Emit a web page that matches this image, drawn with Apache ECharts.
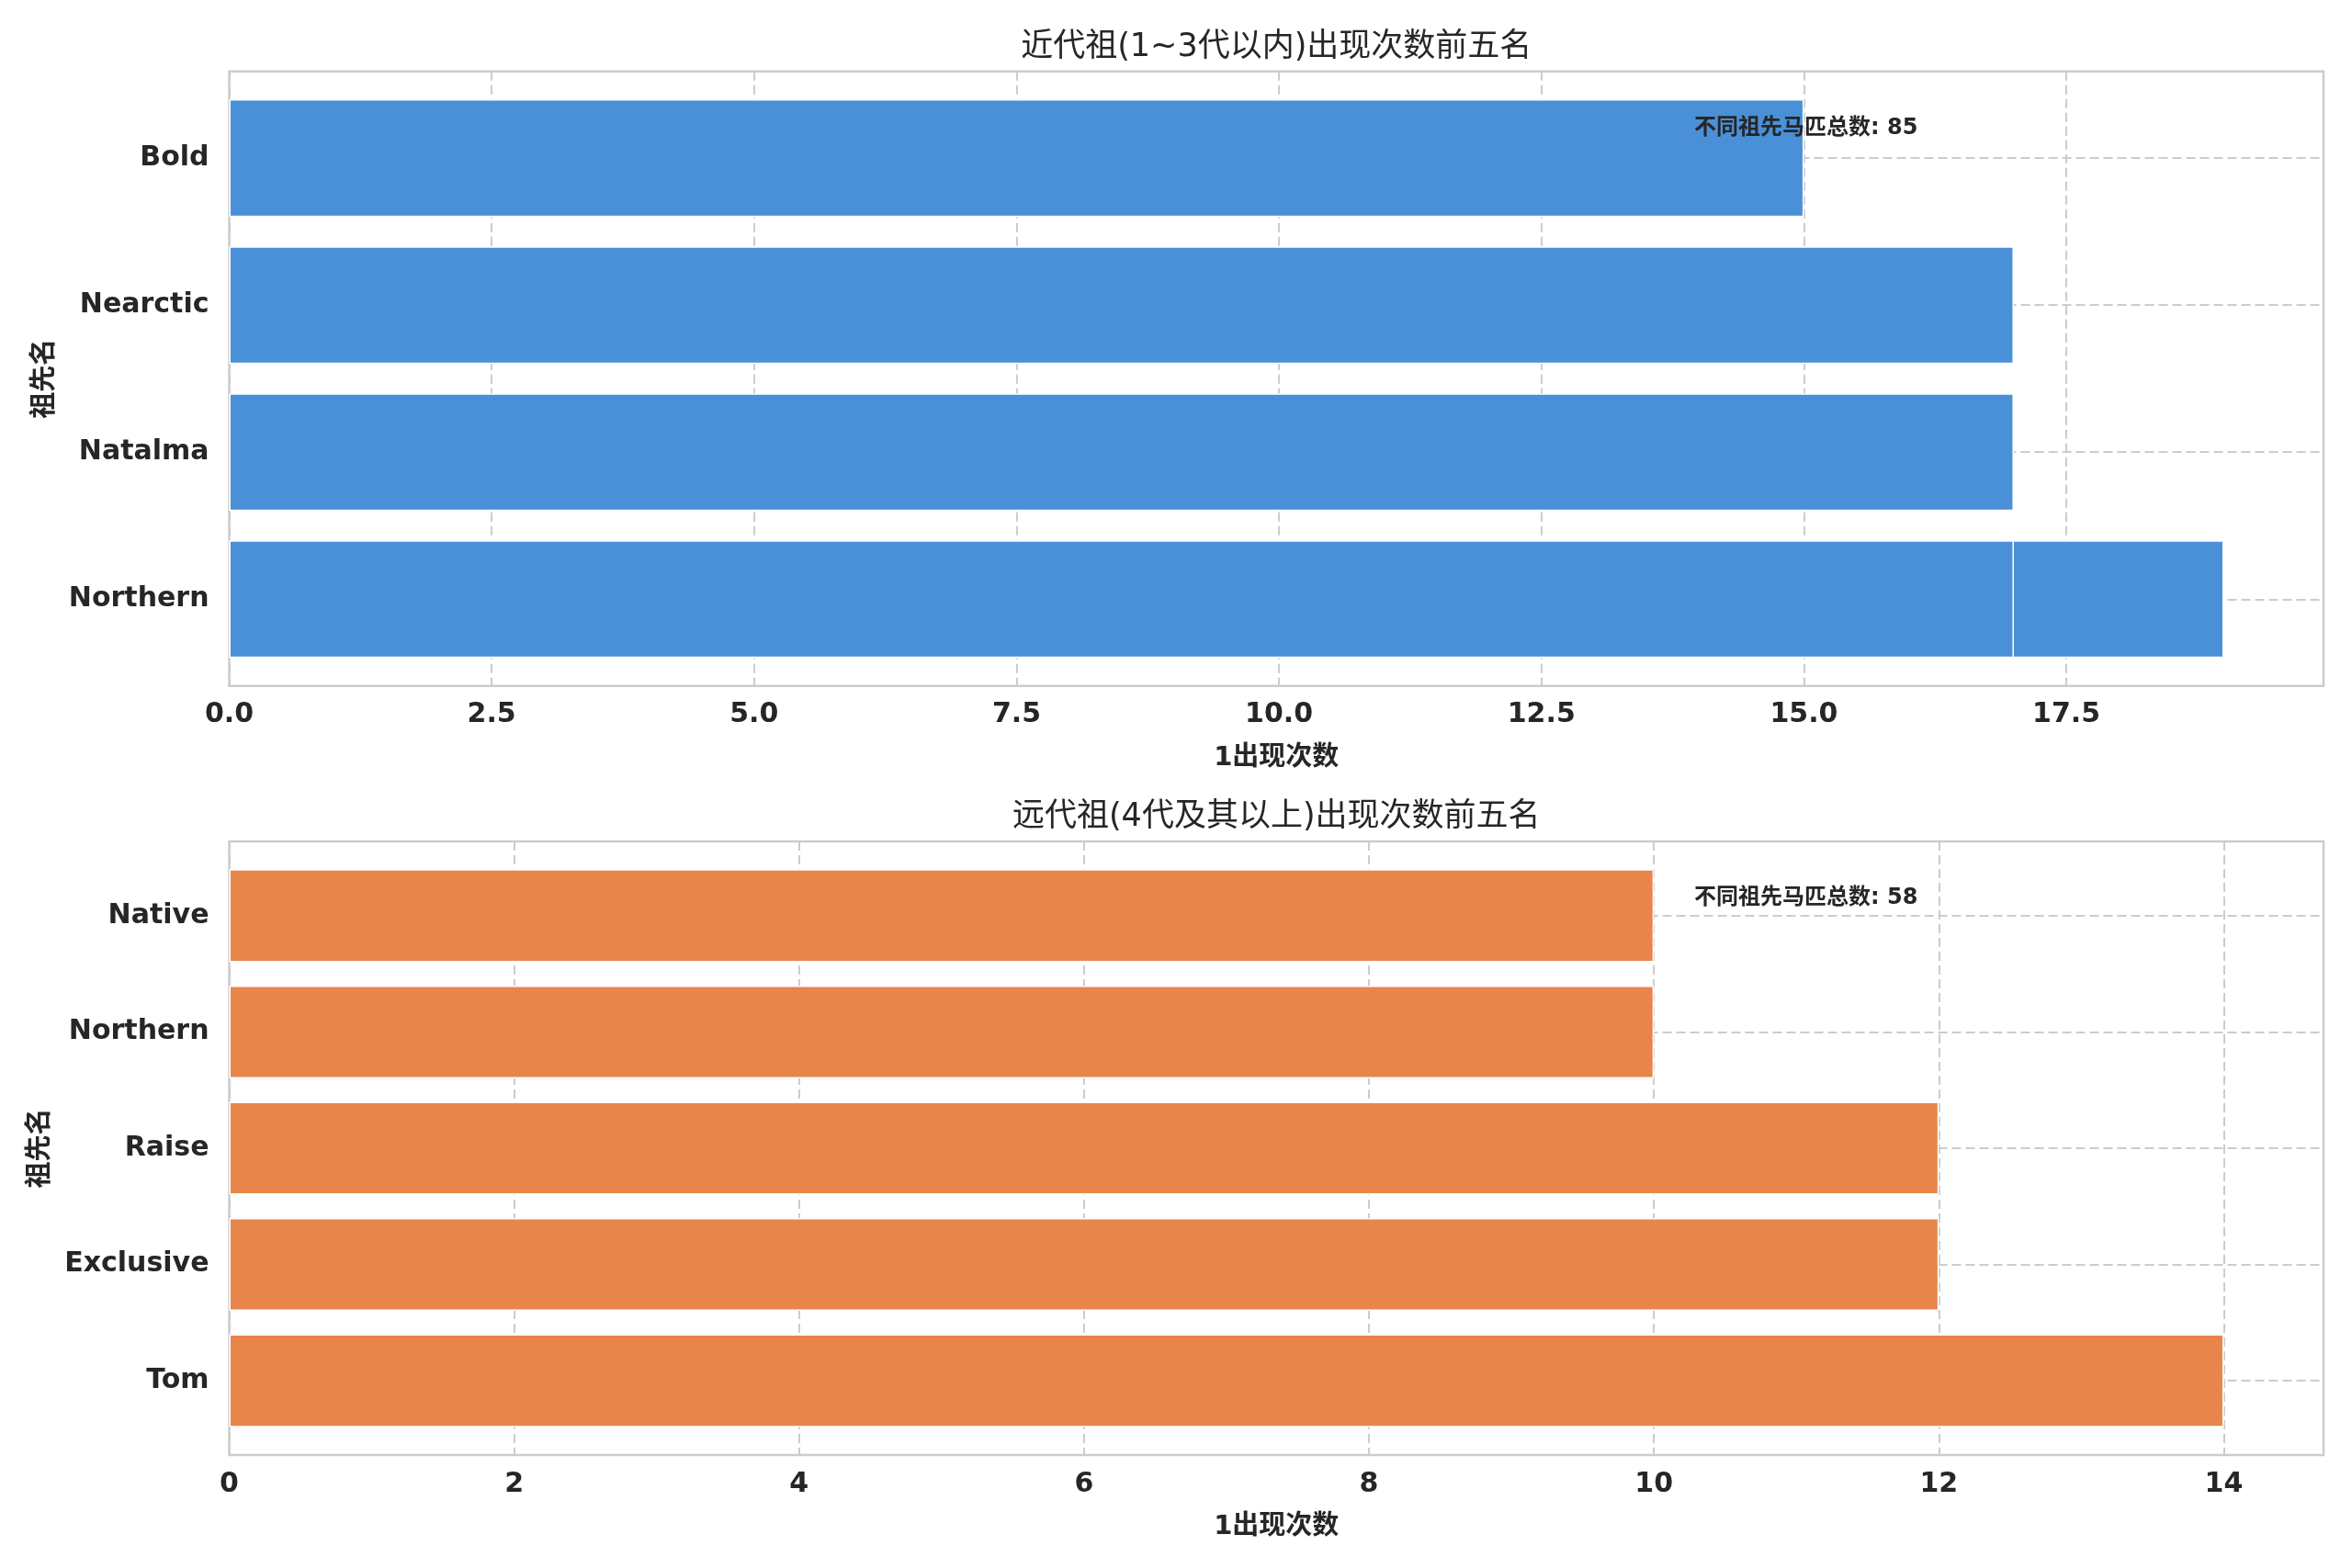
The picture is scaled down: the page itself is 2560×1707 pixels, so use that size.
<!DOCTYPE html>
<html>
<head>
<meta charset="utf-8">
<script src="https://cdn.jsdelivr.net/npm/echarts@6/dist/echarts.min.js"></script>
<style>
  html, body { margin: 0; padding: 0; background: #fff; }
  #chart { width: 2560px; height: 1707px; }
</style>
</head>
<body>
<div id="chart"></div>
<script>
// ── 数据 ────────────────────────────────────────────────
// 上图：1~3 代祖先（同名缩写会叠在同一行，如 Northern）
const namesNear = ['Northern', 'Northern', 'Natalma', 'Nearctic', 'Bold'];
const countsNear = [19, 17, 17, 17, 15];
const totalNear = 85;
const ticksNear = { max: 19.95, interval: 2.5 };

// 下图：4 代及以上祖先
const namesFar = ['Tom', 'Exclusive', 'Raise', 'Northern', 'Native'];
const countsFar = [14, 12, 12, 10, 10];
const totalFar = 58;
const ticksFar = { max: 14.7, interval: 2 };

const titleNear = '近代祖(1~3代以内)出现次数前五名';
const titleFar = '远代祖(4代及其以上)出现次数前五名';
const yName = '祖先名';
const xName = '1出现次数';
const totalLabel = '不同祖先马匹总数';

// ── 样式 ────────────────────────────────────────────────
const TEXT = '#262626';
const GRIDC = '#cccccc';
const FONT = '"DejaVu Sans", "Noto Sans CJK SC", sans-serif';
const BLUE = '#4a90d9';
const ORANGE = '#e8854a';

const L = 249.5, R = 31;
// 外框 = 坐标轴边框；类目区按 matplotlib 的 5% 留白往里缩
const panels = [
  { top: 77.7, height: 669, names: namesNear, counts: countsNear, ticks: ticksNear,
    color: BLUE, title: titleNear, total: totalNear, digits: 1 },
  { top: 916, height: 668, names: namesFar, counts: countsFar, ticks: ticksFar,
    color: ORANGE, title: titleFar, total: totalFar, digits: 0 },
];

/** 同名条目拆成多层，叠画在同一类目上（后画的覆盖先画的） */
function buildLayers(names, counts) {
  const cats = [];
  names.forEach(n => { if (!cats.includes(n)) cats.push(n); });
  const layers = [];
  const seen = {};
  names.forEach((n, i) => {
    const k = seen[n] || 0;
    seen[n] = k + 1;
    if (!layers[k]) layers[k] = cats.map(() => null);
    layers[k][cats.indexOf(n)] = counts[i];
  });
  return { cats, layers };
}

const grid = [], xAxis = [], yAxis = [], series = [], title = [], graphic = [];
const labelStyle = { fontFamily: FONT, fontSize: 30, fontWeight: 'bold', color: TEXT };
const nameStyle = { fontFamily: FONT, fontSize: 29, fontWeight: 'bold', color: TEXT };
const dashed = { color: GRIDC, width: 2, type: [10, 5] };

panels.forEach((p, pi) => {
  const { cats, layers } = buildLayers(p.names, p.counts);
  const n = cats.length;
  // 类目范围 -0.4..n-0.6，两端各留 5%
  const span = (n - 0.2) * 1.1;
  const unit = p.height / span;
  const innerTop = p.top + (0.5 - 0.4 - 0.05 * (n - 0.2)) * -unit;
  const innerH = n * unit;

  const gOuter = pi * 2, gInner = pi * 2 + 1;
  // 外框网格：边框 + 竖向虚线 + x 刻度
  grid.push({
    left: L, right: R, top: p.top, height: p.height,
    show: true, borderColor: GRIDC, borderWidth: 2.5, backgroundColor: '#fff',
  });
  // 内网格：条形 + 类目轴
  grid.push({ left: L, right: R, top: innerTop, height: innerH });

  xAxis.push({
    type: 'value', gridIndex: gOuter, min: 0, max: p.ticks.max, interval: p.ticks.interval,
    name: xName, nameLocation: 'middle', nameGap: 64, nameTextStyle: nameStyle,
    axisLine: { show: false }, axisTick: { show: false },
    axisLabel: Object.assign({ margin: 17, showMaxLabel: false,
      formatter: v => v.toFixed(p.digits) }, labelStyle),
    splitLine: { show: true, lineStyle: dashed },
  });
  xAxis.push({
    type: 'value', gridIndex: gInner, min: 0, max: p.ticks.max, interval: p.ticks.interval,
    show: false,
  });
  yAxis.push({
    type: 'value', gridIndex: gOuter, show: false, splitLine: { show: false },
  });
  yAxis.push({
    type: 'category', gridIndex: gInner, data: cats,
    name: yName, nameLocation: 'middle', nameGap: 186, nameRotate: 90, nameTextStyle: nameStyle,
    axisLine: { show: false }, axisTick: { show: false, alignWithLabel: true },
    axisLabel: Object.assign({ margin: 22 }, labelStyle),
    splitLine: { show: true, alignWithLabel: true, lineStyle: dashed },
  });
  layers.forEach(data => {
    series.push({
      type: 'bar', xAxisIndex: gInner, yAxisIndex: gInner, data,
      barWidth: '80%', barGap: '-100%',
      itemStyle: { color: p.color, borderColor: '#ffffff', borderWidth: 1.5 },
      silent: true,
    });
  });
  title.push({
    text: p.title, left: L + (2560 - L - R) / 2, top: p.top - 44, textAlign: 'center', padding: 0,
    textStyle: { fontFamily: FONT, fontSize: 35, fontWeight: 'normal', color: TEXT, lineHeight: 36 },
  });
  graphic.push({
    type: 'text', left: 1844, top: p.top + 50,
    style: { text: `${totalLabel}: ${p.total}`, font: `bold 24px ${FONT}`, fill: TEXT },
    z: 100,
  });
});

const chart = echarts.init(document.getElementById('chart'), null, { renderer: 'canvas' });
chart.setOption({
  animation: false,
  backgroundColor: '#ffffff',
  title, grid, xAxis, yAxis, series, graphic,
});
</script>
</body>
</html>
